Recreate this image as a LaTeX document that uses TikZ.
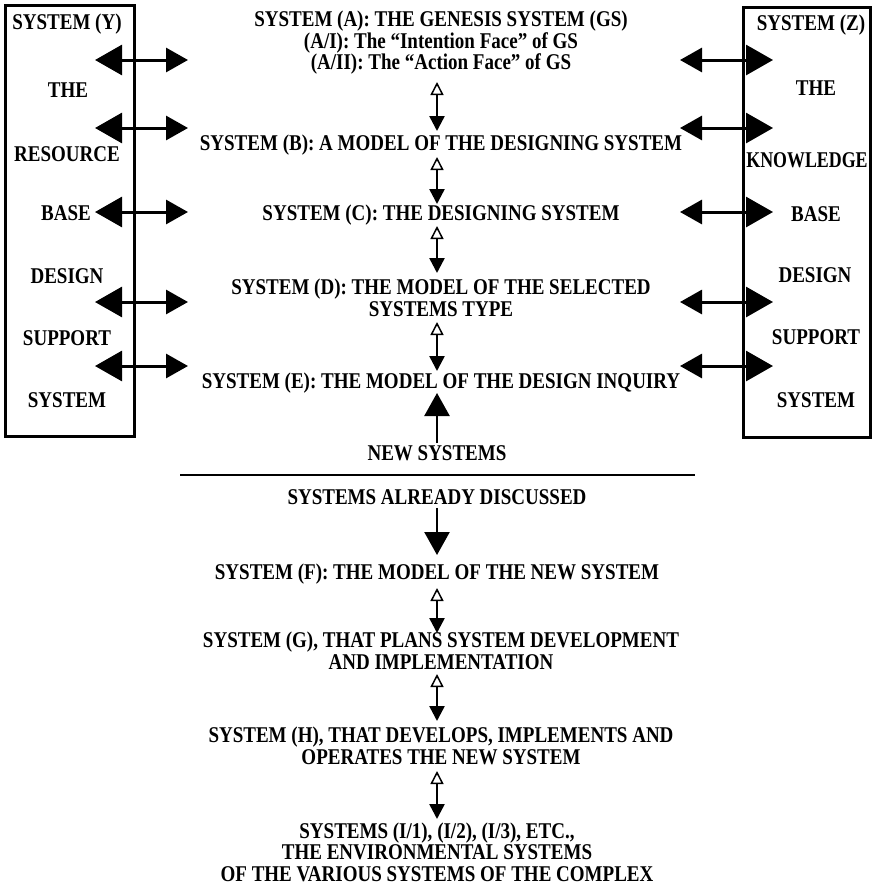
\documentclass[tikz,border=0pt]{standalone}
\usepackage{fontspec}
\setmainfont{Liberation Serif}[FakeStretch=0.845]
\usetikzlibrary{arrows.meta}
\begin{document}
\begin{tikzpicture}[x=1pt,y=-1pt,
  lbl/.style={font=\bfseries\fontsize{22.5}{21.5}\selectfont, inner sep=0pt, align=center},
  frame/.style={draw, line width=3pt},
  sidelink/.style={line width=3pt},
  ctrlink/.style={line width=2.5pt,
    {Triangle[open,length=13pt,width=13pt,line width=1.5pt]}-{Triangle[length=15pt,width=15pt]}},
  biglink/.style={line width=2.5pt, -{Triangle[length=23pt,width=25pt]}},
  inbox/.tip={Triangle[length=27pt,width=30pt]},
  outbox/.tip={Triangle[length=22pt,width=24pt]}
]
\useasboundingbox (0,0) rectangle (874,886);

% the two side systems
\draw[frame] (5,5) rectangle (134,436);
\draw[frame] (743,7) rectangle (870,437);

\node[lbl] (yt)  at (67,24)  {SYSTEM (Y)};
\node[lbl] (y1)  at (68,90)  {THE};
\node[lbl] (y2)  at (67,154) {RESOURCE};
\node[lbl] (y3)  at (66,213) {BASE};
\node[lbl] (y4)  at (67,276) {DESIGN};
\node[lbl] (y5)  at (67,338) {SUPPORT};
\node[lbl] (y6)  at (67,400) {SYSTEM};

\node[lbl] (zt)  at (811,25)  {SYSTEM (Z)};
\node[lbl] (z1)  at (816,88)  {THE};
\node[lbl] (z2)  at (807,160) {\scalebox{0.94}[1]{KNOWLEDGE}};
\node[lbl] (z3)  at (816,214) {BASE};
\node[lbl] (z4)  at (815,275) {DESIGN};
\node[lbl] (z5)  at (816,337) {SUPPORT};
\node[lbl] (z6)  at (816,400) {SYSTEM};

% exchange arrows across the side systems
\foreach \i/\yy in {1/60,2/128,3/212,4/302,5/366}{
  \coordinate (la\i) at (95,\yy);
  \coordinate (lb\i) at (188,\yy);
  \coordinate (ra\i) at (680,\yy);
  \coordinate (rb\i) at (773,\yy);
  \draw[sidelink, inbox-outbox] (la\i) -- (lb\i);
  \draw[sidelink, outbox-inbox] (ra\i) -- (rb\i);
}

% the central column
\node[lbl] (sa) at (441,43) {SYSTEM (A): THE GENESIS SYSTEM (GS)\\(A/I): The “Intention Face” of GS\\(A/II): The “Action Face” of GS};
\node[lbl] (sb) at (441,145) {SYSTEM (B): A MODEL OF THE DESIGNING SYSTEM};
\node[lbl] (sc) at (441,215) {SYSTEM (C): THE DESIGNING SYSTEM};
\node[lbl] (sd) at (441,298) {SYSTEM (D): THE MODEL OF THE SELECTED\\SYSTEMS TYPE};
\node[lbl] (se) at (441,383) {SYSTEM (E): THE MODEL OF THE DESIGN INQUIRY};
\node[lbl] (ns) at (437,453) {NEW SYSTEMS};
\node[lbl] (ad) at (437,497) {SYSTEMS ALREADY DISCUSSED};
\node[lbl] (sf) at (437,574) {SYSTEM (F): THE MODEL OF THE NEW SYSTEM};
\node[lbl] (sg) at (441,651) {SYSTEM (G), THAT PLANS SYSTEM DEVELOPMENT\\AND IMPLEMENTATION};
\node[lbl] (sh) at (441,746) {SYSTEM (H), THAT DEVELOPS, IMPLEMENTS AND\\OPERATES THE NEW SYSTEM};
\node[lbl] (si) at (437,852) {SYSTEMS (I/1), (I/2), (I/3), ETC.,\\THE ENVIRONMENTAL SYSTEMS\\OF THE VARIOUS SYSTEMS OF THE COMPLEX};

\coordinate (ab1) at (437,82);  \coordinate (ab2) at (437,131);
\coordinate (bc1) at (437,157); \coordinate (bc2) at (437,204);
\coordinate (cd1) at (437,226); \coordinate (cd2) at (437,273);
\coordinate (de1) at (437,322); \coordinate (de2) at (437,371);
\coordinate (fg1) at (437,588); \coordinate (fg2) at (437,633);
\coordinate (gh1) at (437,674); \coordinate (gh2) at (437,721);
\coordinate (hi1) at (437,771); \coordinate (hi2) at (437,819);
\draw[ctrlink] (ab1) -- (ab2);
\draw[ctrlink] (bc1) -- (bc2);
\draw[ctrlink] (cd1) -- (cd2);
\draw[ctrlink] (de1) -- (de2);
\draw[ctrlink] (fg1) -- (fg2);
\draw[ctrlink] (gh1) -- (gh2);
\draw[ctrlink] (hi1) -- (hi2);

\coordinate (nsup) at (437,393);
\draw[biglink] (ns.north) ++(0,-2) -- (nsup);
\coordinate (fdown) at (437,555);
\draw[biglink] (ad.south) ++(0,3) -- (fdown);

% divider between new and existing systems
\coordinate (hl) at (180,475);
\coordinate (hr) at (695,475);
\draw[line width=2.5pt] (hl) -- (hr);
\end{tikzpicture}
\end{document}
